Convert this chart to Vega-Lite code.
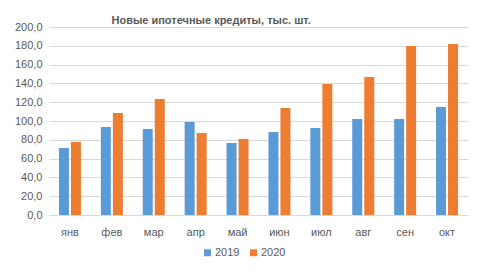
{
  "$schema": "https://vega.github.io/schema/vega-lite/v6.json",
  "width": 419,
  "height": 188,
  "autosize": "none",
  "padding": {"left": 49, "top": 27, "right": 17, "bottom": 61},
  "background": "white",
  "title": {
    "text": "Новые ипотечные кредиты, тыс. шт.",
    "anchor": "start",
    "dx": 97,
    "offset": -5,
    "font": "Liberation Sans",
    "fontSize": 11,
    "fontWeight": "bold",
    "color": "#595959"
  },
  "data": {
    "values": [
      {"month": "янв", "year": "2019", "value": 71.3},
      {"month": "фев", "year": "2019", "value": 93.6},
      {"month": "мар", "year": "2019", "value": 91.5},
      {"month": "апр", "year": "2019", "value": 98.9},
      {"month": "май", "year": "2019", "value": 76.6},
      {"month": "июн", "year": "2019", "value": 88.3},
      {"month": "июл", "year": "2019", "value": 92.6},
      {"month": "авг", "year": "2019", "value": 102.1},
      {"month": "сен", "year": "2019", "value": 102.1},
      {"month": "окт", "year": "2019", "value": 114.9},
      {"month": "янв", "year": "2020", "value": 77.7},
      {"month": "фев", "year": "2020", "value": 108.5},
      {"month": "мар", "year": "2020", "value": 123.4},
      {"month": "апр", "year": "2020", "value": 87.2},
      {"month": "май", "year": "2020", "value": 80.9},
      {"month": "июн", "year": "2020", "value": 113.8},
      {"month": "июл", "year": "2020", "value": 139.4},
      {"month": "авг", "year": "2020", "value": 146.8},
      {"month": "сен", "year": "2020", "value": 179.8},
      {"month": "окт", "year": "2020", "value": 181.9}
    ]
  },
  "mark": {"type": "bar"},
  "encoding": {
    "x": {
      "field": "month",
      "type": "nominal",
      "sort": null,
      "scale": {"paddingInner": 0.475, "paddingOuter": 0.2375},
      "axis": {
        "title": null,
        "labelAngle": 0,
        "ticks": false,
        "domain": true,
        "domainColor": "#d9d9d9",
        "labelPadding": 11,
        "labelFont": "Liberation Sans",
        "labelFontSize": 11,
        "labelColor": "#595959"
      }
    },
    "xOffset": {
      "field": "year",
      "type": "nominal",
      "scale": {"paddingInner": 0.167, "paddingOuter": 0}
    },
    "y": {
      "field": "value",
      "type": "quantitative",
      "scale": {"domain": [0, 200], "nice": false},
      "axis": {
        "title": null,
        "values": [0, 20, 40, 60, 80, 100, 120, 140, 160, 180, 200],
        "labelExpr": "replace(format(datum.value, '.1f'), '.', ',')",
        "ticks": false,
        "domain": false,
        "gridColor": "#d9d9d9",
        "labelPadding": 7,
        "labelFont": "Liberation Sans",
        "labelFontSize": 11,
        "labelColor": "#595959"
      }
    },
    "color": {
      "field": "year",
      "type": "nominal",
      "scale": {"domain": ["2019", "2020"], "range": ["#5b9bd5", "#ed7d31"]},
      "legend": {
        "title": null,
        "orient": "none",
        "direction": "horizontal",
        "legendX": 153,
        "legendY": 220,
        "symbolType": "square",
        "symbolSize": 49,
        "symbolStrokeWidth": 0,
        "symbolOpacity": 1,
        "labelFont": "Liberation Sans",
        "labelFontSize": 11,
        "labelColor": "#595959",
        "labelOffset": 2,
        "columnPadding": 8
      }
    }
  },
  "config": {"view": {"stroke": null}}
}
